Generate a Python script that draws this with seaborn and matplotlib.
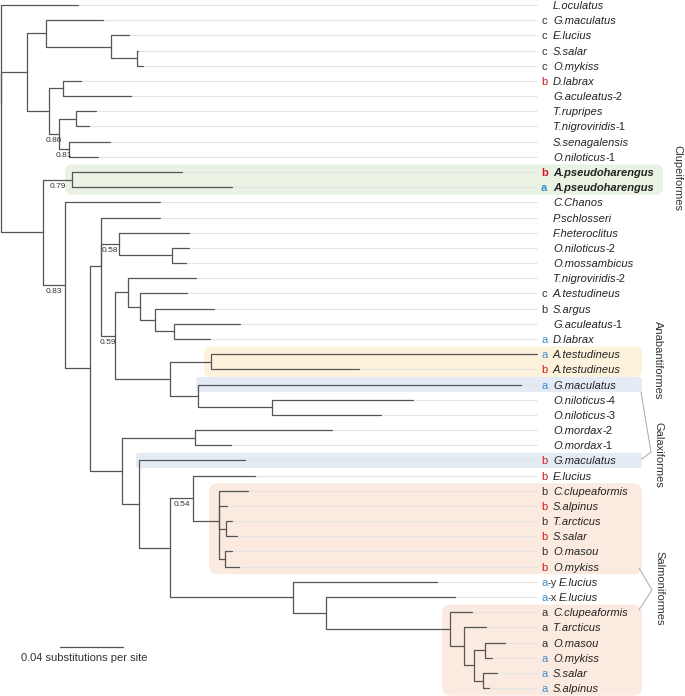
import matplotlib
matplotlib.use("Agg")
import pandas as pd
import matplotlib.pyplot as plt
import seaborn as sns
from matplotlib.patches import FancyBboxPatch
from matplotlib.transforms import offset_copy

# Leaves, top to bottom (depth = substitutions per site from the root)
leaf_names = ["L.oculatus", "G.maculatus", "E.lucius", "S.salar", "O.mykiss", "D.labrax",
              "G.aculeatus-2", "T.rupripes", "T.nigroviridis-1", "S.senagalensis", "O.niloticus-1",
              "A.pseudoharengus", "A.pseudoharengus", "C.Chanos", "P.schlosseri", "F.heteroclitus",
              "O.niloticus-2", "O.mossambicus", "T.nigroviridis-2", "A.testudineus", "S.argus",
              "G.aculeatus-1", "D.labrax", "A.testudineus", "A.testudineus", "G.maculatus",
              "O.niloticus-4", "O.niloticus-3", "O.mordax-2", "O.mordax-1", "G.maculatus",
              "E.lucius", "C.clupeaformis", "S.alpinus", "T.arcticus", "S.salar", "O.masou",
              "O.mykiss", "E.lucius", "E.lucius", "C.clupeaformis", "T.arcticus", "O.masou",
              "O.mykiss", "S.salar", "S.alpinus"]
leaf_tags = ["", "c", "c", "c", "c", "b", "", "", "", "", "", "b", "a", "", "", "", "", "", "",
             "c", "b", "", "a", "a", "b", "a", "", "", "", "", "b", "b", "b", "b", "b", "b", "b",
             "b", "a-y", "a-x", "a", "a", "a", "a", "a", "a"]
leaf_tag_colors = ["k", "k", "k", "k", "k", "r", "k", "k", "k", "k", "k", "r", "b", "k", "k", "k",
                   "k", "k", "k", "k", "k", "k", "b", "b", "r", "b", "k", "k", "k", "k", "r", "r",
                   "k", "r", "k", "r", "k", "r", "b", "b", "k", "k", "k", "b", "b", "b"]
leaf_parents = ["R", "N2", "N3", "N4", "N4", "N6", "N6", "N8", "N8", "N9", "N9", "N11", "N11",
                "N12", "N14", "N15", "N16", "N16", "N18", "N19", "N20", "N20b", "N20b", "N21a",
                "N21a", "N21b", "N21c", "N21c", "N23", "N23", "N24", "N26", "N27", "N27", "N28",
                "N28", "N29", "N29", "N30", "N31", "N32", "N33", "N35", "N35", "N36", "N36"]
leaf_depths = [0.0489, 0.0648, 0.0813, 0.0870, 0.0902, 0.0508, 0.0826, 0.0603, 0.0559, 0.0692,
               0.0616, 0.1149, 0.1467, 0.1010, 0.1010, 0.1194, 0.1194, 0.1175, 0.1238, 0.1181,
               0.1353, 0.1518, 0.1327, 0.3404, 0.2273, 0.3302, 0.2616, 0.2413, 0.2102, 0.1461,
               0.1549, 0.1613, 0.1568, 0.1435, 0.1467, 0.1499, 0.1467, 0.1511, 0.2769, 0.2883,
               0.2991, 0.3080, 0.3200, 0.3118, 0.3150, 0.3099]
bold_leaves = [11, 12]

# Internal nodes
node_names = ["R", "N1", "N2", "N3", "N4", "N5", "N6", "N7", "N8", "N9", "N10", "N11", "N12",
              "N13", "N14", "N15", "N16", "N17", "N18", "N19", "N20", "N20b", "N21", "N21a",
              "N21b", "N21c", "N22", "N23", "N24", "N25", "N26", "N27", "N28", "N29", "N30",
              "N31", "N32", "N33", "N34", "N35", "N36"]
node_parents = [None, "R", "N1", "N2", "N3", "N1", "N5", "N5", "N7", "N7", "R", "N10", "N10",
                "N12", "N13", "N14", "N15", "N14", "N17", "N18", "N19", "N20", "N17", "N21",
                "N21", "N21b", "N13", "N22", "N22", "N24", "N25", "N26", "N27", "N27", "N25",
                "N30", "N31", "N32", "N33", "N34", "N34"]
node_depths = [0.0, 0.0165, 0.0286, 0.0699, 0.0864, 0.0305, 0.0394, 0.0368, 0.0476, 0.0432,
               0.0267, 0.0451, 0.0406, 0.0565, 0.0635, 0.0749, 0.1086, 0.0724, 0.0806, 0.0883,
               0.0978, 0.1099, 0.1073, 0.1334, 0.1251, 0.1721, 0.0768, 0.1232, 0.0876, 0.1073,
               0.1219, 0.1384, 0.1429, 0.1422, 0.1854, 0.2064, 0.2851, 0.2940, 0.3004, 0.3073,
               0.3061]

support_nodes = ["N7", "N9", "N11", "N12", "N15", "N17", "N26"]
support_values = [0.86, 0.81, 0.79, 0.83, 0.58, 0.59, 0.54]

order_labels = ["Clupeiformes", "Anabantiformes", "Galaxiformes", "Salmoniformes"]

# pixel helpers for layout only
PX = 0.04 / 63.0
ROW = 15.18
def px_x(p):
    return (p - 1) * PX
def px_y(p):
    return (p - 5) / ROW

# build the tree
depth = dict(zip(node_names, node_depths))
parent = dict(zip(node_names, node_parents))
children = {n: [] for n in node_names}
ypos = {}
for i, (p, d) in enumerate(zip(leaf_parents, leaf_depths)):
    key = "leaf%d" % i
    depth[key] = d
    parent[key] = p
    ypos[key] = i
    children[p].append(key)
for n, p in zip(node_names, node_parents):
    if p is not None:
        children[p].append(n)

def node_y(n):
    if n not in ypos:
        ys = [node_y(c) for c in children[n]]
        ypos[n] = sum(ys) / len(ys)
    return ypos[n]

for n in node_names:
    node_y(n)

rows = []
seg = 0
for n, p in parent.items():
    if p is None:
        continue
    for x, y in [(depth[p], ypos[p]), (depth[p], ypos[n]), (depth[n], ypos[n])]:
        rows.append({"x": x, "y": y, "seg": seg})
    seg += 1
edges = pd.DataFrame(rows)

sns.set_theme(style="white")
plt.rcParams["font.family"] = ["Liberation Sans", "DejaVu Sans"]

fig = plt.figure(figsize=(6.85, 6.96), dpi=100)
ax = fig.add_axes([0, 0, 1, 1])

# highlight boxes
boxes = [(11, 12, 65, 663, 7, "#e9f2e3"), (23, 24, 204, 642, 7, "#fdf3dc"),
         (25, 25, 196, 642, 3, "#e5ebf5"), (30, 30, 136, 642, 3, "#e5ebf5"),
         (32, 37, 209, 642, 9, "#fbeadf"), (40, 45, 442, 642, 9, "#fbeadf")]
for r0, r1, x0, x1, rad, col in boxes:
    patch = FancyBboxPatch((px_x(x0), r0 - 0.5), px_x(x1) - px_x(x0), r1 - r0 + 1,
                           boxstyle="round,pad=0,rounding_size=%f" % (rad * PX),
                           mutation_aspect=(1 / ROW) / PX, fc=col, ec="none", zorder=0)
    ax.add_patch(patch)

# guide lines from tips to labels
ax.hlines(range(len(leaf_names)), leaf_depths, px_x(537), color="#e4e4e4", lw=0.8, zorder=1)

sns.lineplot(data=edges, x="x", y="y", units="seg", estimator=None, sort=False,
             color="#555555", linewidth=0.9, ax=ax, zorder=2, legend=False)

# support values
for n, v in zip(support_nodes, support_values):
    xm = (depth[n] + depth[parent[n]]) / 2
    ax.text(xm, ypos[n] + 6.5 / ROW, "%.2f" % v, fontsize=6, color="#333333",
            ha="center", va="center")

# tip labels
tag_map = {"k": "#333333", "r": "#d7191c", "b": "#3a8fd1"}
renderer = fig.canvas.get_renderer()
for i, name in enumerate(leaf_names):
    tag = leaf_tags[i]
    bold = "bold" if i in bold_leaves else "normal"
    if tag:
        letter = tag[0]
        t = ax.text(px_x(541), i, letter, fontsize=8, color=tag_map[leaf_tag_colors[i]],
                    fontweight=bold, va="center_baseline", ha="left")
        if len(tag) > 1:
            w = t.get_window_extent(renderer).width
            tr = offset_copy(ax.transData, fig=fig, x=w * 72 / fig.dpi, y=0, units="points")
            ax.text(px_x(541), i, tag[1:], fontsize=8, color="#333333", transform=tr,
                    va="center_baseline", ha="left")
    xname = px_x(559) if len(tag) > 1 else px_x(553)
    main, suffix = name, ""
    if "-" in name:
        main, suffix = name.split("-")
        suffix = "-" + suffix
    t = ax.text(xname, i, main, fontsize=8, style="italic", fontweight=bold, color="#222222",
                va="center_baseline", ha="left")
    if suffix:
        w = t.get_window_extent(renderer).width
        tr = offset_copy(ax.transData, fig=fig, x=w * 72 / fig.dpi, y=0, units="points")
        ax.text(xname, i, suffix, fontsize=8, color="#222222", transform=tr,
                va="center_baseline", ha="left")

# order labels and brackets
label_pos = [(677, 178), (658, 360), (658, 455), (659, 588)]
for lab, (lx, ly) in zip(order_labels, label_pos):
    ax.text(px_x(lx), px_y(ly), lab, rotation=270, fontsize=8, color="#333333",
            ha="center", va="center")
ax.plot([px_x(641), px_x(651), px_x(642)], [px_y(392), px_y(452), px_y(459)],
        color="#a8a8a8", lw=0.7)
ax.plot([px_x(639), px_x(652), px_x(639)], [px_y(568), px_y(590), px_y(610)],
        color="#a8a8a8", lw=0.7)

# scale bar
sb_x = px_x(60)
ax.plot([sb_x, sb_x + 0.04], [px_y(647), px_y(647)], color="#555555", lw=0.9)
ax.text(px_x(84), px_y(658), "0.04 substitutions per site", fontsize=8, color="#333333",
        ha="center", va="center")

ax.set_xlim(px_x(0), px_x(685))
ax.set_ylim(px_y(696), px_y(0))
ax.axis("off")

fig.savefig("out.png", dpi=100)
